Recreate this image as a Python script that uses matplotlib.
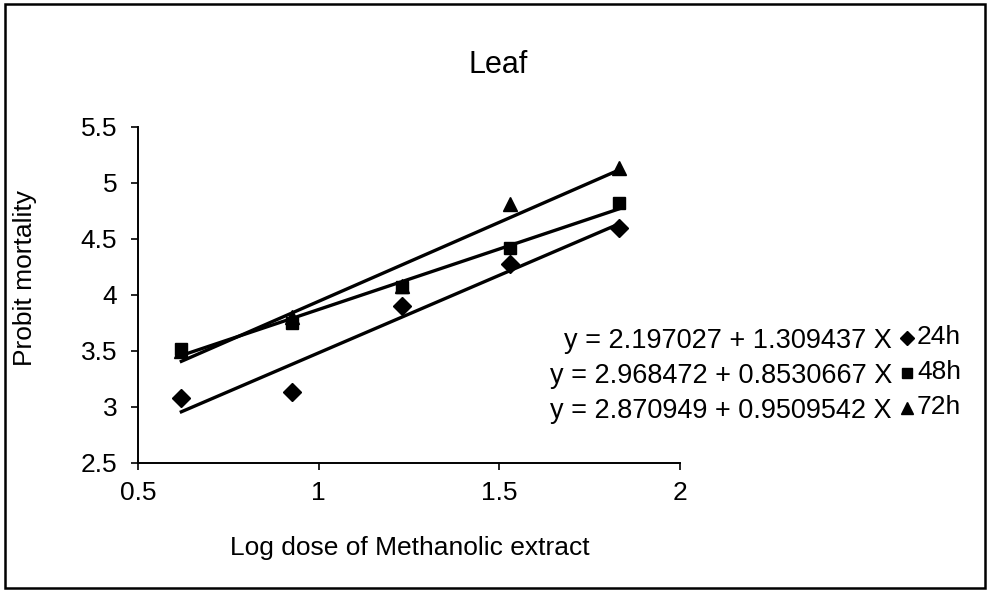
import numpy as np
import matplotlib
matplotlib.use('Agg')
import matplotlib.pyplot as plt
from matplotlib.patches import Rectangle

plt.rcParams['font.family'] = ['Liberation Sans', 'DejaVu Sans']

# log dose values and probit mortality
log_dose = [0.62, 0.925, 1.23, 1.53, 1.83]
probit_24h = [3.08, 3.13, 3.90, 4.28, 4.60]
probit_48h = [3.52, 3.75, 4.07, 4.42, 4.82]
probit_72h = [3.50, 3.80, 4.08, 4.81, 5.13]

series_names = ['24h', '48h', '72h']
equations = ['y = 2.197027 + 1.309437 X',
             'y = 2.968472 + 0.8530667 X',
             'y = 2.870949 + 0.9509542 X']
markers = ['D', 's', '^']

x_ticks = [0.5, 1, 1.5, 2]
y_ticks = [2.5, 3, 3.5, 4, 4.5, 5, 5.5]

W, H = 990, 592
fig = plt.figure(figsize=(9.9, 5.92), dpi=100)
ax = fig.add_axes([138 / W, 1 - 463 / H, (680 - 138) / W, (463 - 127) / H])

# figure border
fig.patches.append(Rectangle((5 / W, 4 / H), 980 / W, 584 / H, transform=fig.transFigure,
                             fill=False, edgecolor='black', linewidth=1.8))

all_series = [probit_24h, probit_48h, probit_72h]
x = np.array(log_dose)
ms = [9, 8, 10]
for vals, mk, m in zip(all_series, markers, ms):
    ax.plot(x, vals, linestyle='none', marker=mk, markersize=m, color='black', zorder=3)
    # regression line through the points
    slope, intercept = np.polyfit(x, vals, 1)
    ax.plot(x[[0, -1]], intercept + slope * x[[0, -1]], color='black', linewidth=2.4, zorder=2)

ax.set_xlim(0.5, 2)
ax.set_ylim(2.5, 5.5)
ax.set_xticks(x_ticks)
ax.set_xticklabels(['0.5', '1', '1.5', '2'])
ax.set_yticks(y_ticks)
ax.set_yticklabels(['2.5', '3', '3.5', '4', '4.5', '5', '5.5'])
ax.tick_params(axis='both', direction='out', length=5, width=1.2, labelsize=19)
ax.tick_params(axis='y', pad=10)
ax.tick_params(axis='x', pad=8)
for s in ['top', 'right']:
    ax.spines[s].set_visible(False)
for s in ['left', 'bottom']:
    ax.spines[s].set_linewidth(1.4)

fig.text(498 / W, 1 - 65 / H, 'Leaf', ha='center', va='center', fontsize=22)
fig.text(410 / W, 1 - 548 / H, 'Log dose of Methanolic extract', ha='center', va='center', fontsize=19)
fig.text(25 / W, 1 - 278 / H, 'Probit mortality', ha='center', va='center', rotation=90, fontsize=19)

# equations with a small legend on the right
eq_y = [341, 376, 411]
leg_ms = [7, 7, 8]
for eq, yy, mk, name, m in zip(equations, eq_y, markers, series_names, leg_ms):
    fig.text(892 / W, 1 - yy / H, eq, ha='right', va='center', fontsize=19.5)
    fig.lines.append(plt.Line2D([907 / W], [1 - (yy - 3) / H], transform=fig.transFigure,
                                marker=mk, markersize=m, color='black', linestyle='none'))
    fig.text(917 / W, 1 - (yy - 4) / H, name, ha='left', va='center', fontsize=19)

fig.savefig('out.png', dpi=100)
